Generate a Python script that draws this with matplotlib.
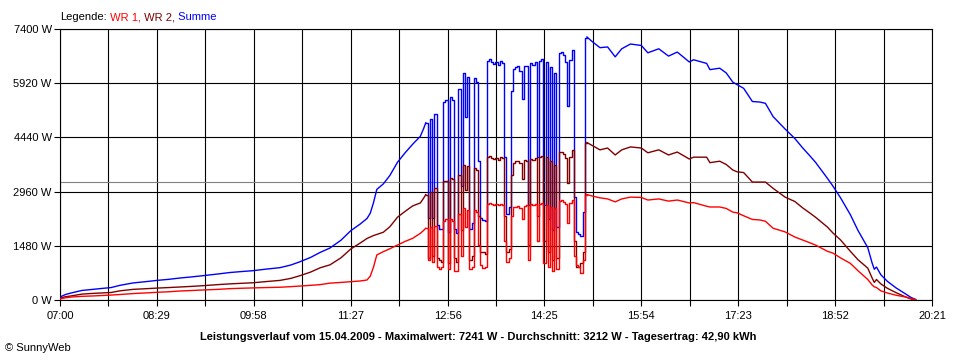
import matplotlib
matplotlib.use("Agg")
import matplotlib.pyplot as plt

# time in minutes after 07:00, power of both inverters in W
minutes = [
    0, 5, 10, 20, 30, 40, 47, 55, 67, 80, 89, 100, 110, 120, 131, 145, 156, 166, 177, 190,
    202, 212, 220, 230, 239, 248, 258, 267, 276, 282, 285, 288, 291, 297, 303, 310, 317, 324, 331, 334,
    336, 338, 340, 342, 344, 346, 348, 350, 352, 354, 356, 358, 360, 362, 364, 366, 368, 370, 372, 374,
    376, 378, 380, 382, 384, 386, 388, 390, 392, 394, 396, 398, 400, 402, 404, 406, 408, 410, 412, 414,
    416, 418, 420, 422, 424, 426, 428, 430, 432, 434, 436, 438, 440, 442, 444, 446, 448, 450, 452, 454,
    456, 458, 460, 462, 464, 466, 468, 470, 472, 474, 476, 478, 480, 482, 484, 490, 496, 503, 510, 516,
    524, 534, 540, 550, 559, 567, 574, 578, 582, 594, 597, 606, 612, 618, 622, 628, 636, 643, 648, 655,
    666, 675, 682, 689, 694, 705, 710, 717, 726, 733, 742, 746, 748, 750, 754, 760, 768, 777, 782, 786,
]
wr1 = [
    30, 60, 80, 100, 110, 125, 135, 150, 175, 195, 210, 225, 245, 258, 273, 290, 310, 320, 330, 340,
    348, 365, 380, 400, 420, 460, 480, 500, 520, 546, 650, 900, 1230, 1320, 1400, 1500, 1600, 1685, 1820, 1900,
    1960, 1100, 1990, 1050, 2030, 900, 850, 900, 2150, 2200, 850, 2200, 2150, 800, 780, 2350, 1200, 2500, 2000, 2450,
    850, 900, 2450, 2400, 1500, 950, 880, 900, 2620, 2650, 2620, 2600, 2630, 2600, 2620, 2600, 1600, 1050, 1150, 2300,
    2550, 2550, 2580, 2500, 2200, 2580, 2600, 1100, 2620, 2600, 2620, 1600, 2620, 2650, 1000, 2600, 900, 2550, 800, 2500,
    850, 2700, 2720, 2680, 2620, 2100, 2650, 2720, 1200, 950, 900, 750, 1100, 2870, 2880, 2830, 2790, 2760, 2680, 2760,
    2810, 2800, 2730, 2760, 2700, 2730, 2680, 2650, 2660, 2560, 2540, 2540, 2500, 2400, 2380, 2300, 2200, 2185, 2150, 1960,
    1860, 1720, 1640, 1560, 1500, 1330, 1280, 1150, 1000, 800, 560, 410, 360, 340, 250, 190, 130, 80, 40, 10,
]
wr2 = [
    50, 90, 110, 160, 180, 195, 205, 250, 290, 310, 325, 340, 355, 370, 390, 420, 440, 455, 470, 505,
    535, 590, 660, 760, 880, 960, 1150, 1390, 1560, 1680, 1720, 1760, 1790, 1850, 2000, 2260, 2420, 2570, 2650, 2780,
    2880, 1150, 2950, 1200, 3050, 1150, 1100, 1050, 3250, 3250, 1000, 3330, 3300, 1150, 1050, 3400, 1900, 3700, 3000, 3650,
    1100, 1200, 3600, 3550, 2300, 1300, 1300, 1250, 3900, 3920, 3880, 3850, 3870, 3820, 3900, 3870, 2300, 1300, 1400, 3400,
    3750, 3800, 3800, 3750, 3300, 3820, 3800, 1500, 3850, 3830, 3880, 2300, 3900, 3920, 1600, 3900, 1300, 3800, 1100, 3700,
    1150, 4050, 4050, 4000, 3880, 3200, 3900, 4100, 1600, 900, 900, 1000, 1300, 4280, 4300, 4200, 4100, 4150, 3960, 4100,
    4180, 4150, 4020, 4100, 3960, 4040, 3920, 3850, 3900, 3900, 3750, 3790, 3700, 3550, 3500, 3480, 3220, 3220, 3220, 3050,
    2810, 2690, 2520, 2370, 2260, 1990, 1830, 1640, 1330, 1100, 870, 600, 480, 560, 440, 320, 200, 80, 25, 5,
]

x_labels = ["07:00", "08:29", "09:58", "11:27", "12:56", "14:25", "15:54", "17:23", "18:52", "20:21"]
y_values = [0, 1480, 2960, 4440, 5920, 7400]
average_w = 3212
cloudy_from, cloudy_to = 336, 484  # minutes with quick cloud changes, drawn as steps
legend_items = [(" WR 1,", "#ff0000"), (" WR 2,", "#800000"), (" Summe", "#0000ff")]
title = ("Leistungsverlauf vom 15.04.2009 - Maximalwert: 7241 W - Durchschnitt: 3212 W"
         " - Tagesertrag: 42,90 kWh")

plt.rcParams["font.family"] = ["Liberation Sans", "DejaVu Sans"]
plt.rcParams["font.size"] = 8


def to_minutes(label: str) -> float:
    hh, mm = label.split(":")
    return (int(hh) - 7) * 60 + int(mm)


def draw_series(ax, values, color, zorder):
    i0 = minutes.index(cloudy_from)
    i1 = minutes.index(cloudy_to)
    kw = dict(color=color, linewidth=1.0, zorder=zorder)
    ax.plot(minutes[:i0 + 1], values[:i0 + 1], **kw)
    ax.plot(minutes[i0:i1 + 1], values[i0:i1 + 1], drawstyle="steps-post", **kw)
    ax.plot(minutes[i1:], values[i1:], **kw)


summe = [a + b for a, b in zip(wr1, wr2)]
major = [to_minutes(lab) for lab in x_labels]
minor = [(a + b) / 2 for a, b in zip(major[:-1], major[1:])]

fig = plt.figure(figsize=(9.6, 3.6), dpi=100)
ax = fig.add_axes([60 / 960, 60 / 360, 872 / 960, 271 / 360])

draw_series(ax, summe, "#0000ff", 3)
draw_series(ax, wr2, "#800000", 4)
draw_series(ax, wr1, "#ff0000", 5)
ax.axhline(average_w, color="#808080", linewidth=0.8, zorder=2)

ax.set_xlim(major[0], major[-1])
ax.set_ylim(y_values[0], y_values[-1])
ax.set_xticks(major)
ax.set_xticklabels(x_labels)
ax.set_xticks(minor, minor=True)
ax.set_yticks(y_values)
ax.set_yticklabels([f"{v} W" for v in y_values])
ax.tick_params(axis="x", which="both", length=4, width=0.8, pad=4, color="black")
ax.tick_params(axis="y", length=4.5, width=0.8, pad=1.5, color="black")
ax.grid(True, which="both", color="black", linewidth=0.8, zorder=1)
ax.set_axisbelow(True)
for spine in ax.spines.values():
    spine.set_linewidth(0.8)

# legend line at the top, coloured word by word
t = fig.text(60 / 960, 1 - 17 / 360, "Legende:", color="black", va="center", ha="left")
for word, color in legend_items:
    t = ax.annotate(word, xy=(1, 0), xycoords=t, va="bottom", ha="left",
                    color=color, annotation_clip=False)

fig.text(478 / 960, 1 - 337 / 360, title, fontweight="bold", ha="center", va="center")
fig.text(5 / 960, 1 - 348 / 360, "\u00a9 SunnyWeb", ha="left", va="center")

fig.savefig("out.png", dpi=100)
